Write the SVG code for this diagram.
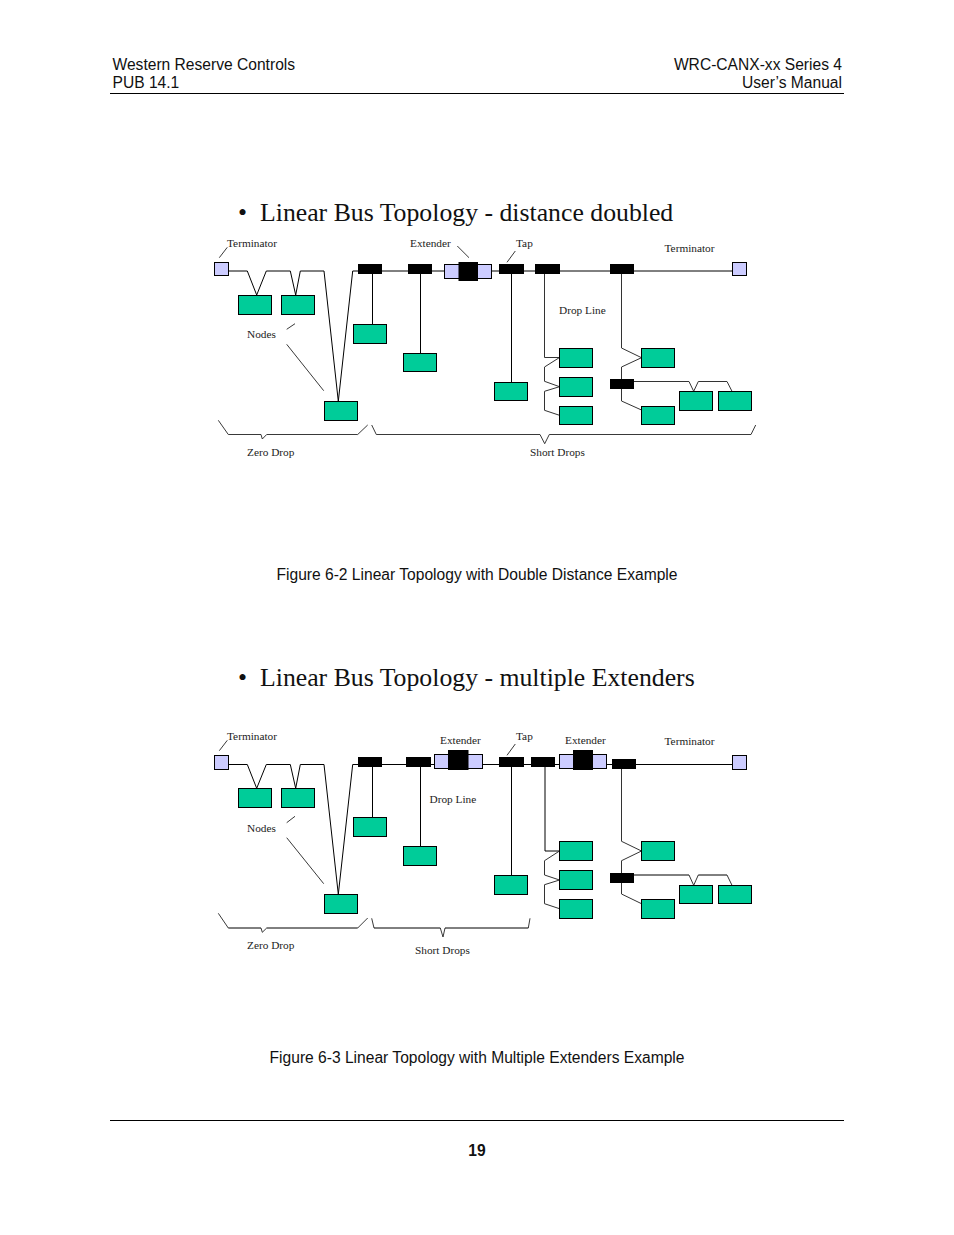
<svg xmlns="http://www.w3.org/2000/svg" width="954" height="1235" viewBox="0 0 954 1235">
<style>
.page{font-family:"Liberation Sans",Arial,sans-serif;font-size:15.6px;fill:#111}
.h{font-family:"Liberation Serif","Times New Roman",serif;font-size:25.75px;fill:#111}
.l{font-family:"Liberation Serif","Times New Roman",serif;font-size:11.3px;fill:#222}
.n{fill:#00cc99;stroke:#000;stroke-width:1}
.t{fill:#000}
.e{fill:#ccccff;stroke:#000;stroke-width:1}
.c{fill:none;stroke:#000;stroke-width:1}
.d{fill:none;stroke:#333;stroke-width:1}
.a{fill:none;stroke:#222;stroke-width:.9}
</style>
<rect width="954" height="1235" fill="#fff"/>
<g id="page">
<text class="page" x="112.500" y="70">Western Reserve Controls</text>
<text class="page" x="112.500" y="88">PUB 14.1</text>
<text class="page" x="842" y="70" text-anchor="end">WRC-CANX-xx Series 4</text>
<text class="page" x="842" y="88" text-anchor="end">User’s Manual</text>
<path d="M110 93.500H844M110 1120.500H844" class="c"/>
<text class="page" x="477" y="1156" text-anchor="middle" style="font-weight:bold">19</text>
<text class="h" x="238" y="221">•</text>
<text class="h" x="260" y="221">Linear Bus Topology - distance doubled</text>
<text class="page" x="477" y="580" text-anchor="middle">Figure 6-2 Linear Topology with Double Distance Example</text>
<text class="h" x="238" y="686">•</text>
<text class="h" x="260" y="686">Linear Bus Topology - multiple Extenders</text>
<text class="page" x="477" y="1063" text-anchor="middle">Figure 6-3 Linear Topology with Multiple Extenders Example</text>
</g>
<g id="connectors">
<path class="c" d="M228.700 271H247.300L256.700 295L266.300 271H290.300L295.700 295L300.300 271H324L338.300 401.300L352.700 271H358M382 271H408M432 271H444.500M491.500 271H499M524 271H535M560 271H610M634 271H732.500"/>
<path class="c" d="M372.500 274V324.500M420.500 274V353.500M511.500 274V382.500"/>
<path class="d" d="M544.500 274V357.500H559.500L544.500 367V381.300L559.500 386.700L544.500 391.300V410.300L559.500 415.300"/>
<path class="d" d="M621.500 274V348L641.500 357.700L621.500 367V379M621.500 389V401L641.500 410"/>
<path class="d" d="M634 381.500H689L693.700 391.300L698.300 381.500H727L732 391.300"/>
<path class="a" d="M219.300 257.700L227.300 247.300M286.700 329.300L295 323.700M286.700 344.300L323.700 390.700M457.300 246L469 257.700M507 262.300L515.300 251"/>
<path class="a" d="M218.300 420.300L228.300 434.500H261L262.300 439L266.700 434.500H357.700L367.700 425M371.700 425L376.300 434.500H540L544.700 443.700L549.300 434.500H751L755.700 425"/>
<path class="c" d="M228.700 764.500H247.300L256.700 788.300L266.300 764.500H290.300L295.700 788.300L300.300 764.500H324L338.300 894.300L352.700 764.500H358M382 764.500H406M431 764.500H434.500M482.500 764.500H499M524 764.500H531M555 764.500H559.500M606.500 764.500H612M636 764.500H732.500"/>
<path class="c" d="M372.500 767V817.500M420.500 767V846.500M511.500 767V875.500"/>
<path class="c" d="M545 767V851H559.500"/>
<path class="d" d="M559.500 851L544.500 860.700V875L559.500 880L544.500 884.700V903.700L559.500 908.700"/>
<path class="d" d="M621.500 769V841.300L641.500 851L621.500 860.700V873M621.500 883V894L641.500 903.700"/>
<path class="c" d="M634 875H689"/>
<path class="d" d="M689 875L693.700 885.300L698.300 875"/>
<path class="c" d="M698.300 875H727"/>
<path class="d" d="M727 875L732 885.300"/>
<path class="a" d="M219.300 750.700L227.300 740.300M286.700 822.700L295 816.300M286.700 837.700L323.700 883.700M507 755.300L515.300 744"/>
<path class="a" d="M218.300 913.300L228.300 928M261 928L262.300 932.300L266.700 928M357.700 928L367.700 918M371.700 918.300L374 928M440.300 928L443 937L445 928M528.300 928L530 918.300"/>
<path class="c" d="M228.300 928H261M266.700 928H357.700M374 928H440.300M445 928H528.300"/>
</g>
<g id="fig2-term-l"><rect class="e" x="214.500" y="262.500" width="14" height="13"/><text class="l" x="227" y="247">Terminator</text></g>
<g id="fig2-term-r"><rect class="e" x="732.500" y="262.500" width="14" height="13"/><text class="l" x="664.500" y="252">Terminator</text></g>
<g id="fig2-node1"><rect class="n" x="238.500" y="295.500" width="33" height="19"/></g>
<g id="fig2-node2"><rect class="n" x="281.500" y="295.500" width="33" height="19"/></g>
<g id="fig2-node3"><rect class="n" x="353.500" y="324.500" width="33" height="19"/></g>
<g id="fig2-node4"><rect class="n" x="403.500" y="353.500" width="33" height="18"/></g>
<g id="fig2-node5"><rect class="n" x="324.500" y="401.500" width="33" height="19"/></g>
<g id="fig2-node6"><rect class="n" x="494.500" y="382.500" width="33" height="18"/></g>
<g id="fig2-node7"><rect class="n" x="559.500" y="348.500" width="33" height="19"/></g>
<g id="fig2-node8"><rect class="n" x="559.500" y="377.500" width="33" height="19"/></g>
<g id="fig2-node9"><rect class="n" x="559.500" y="406.500" width="33" height="18"/></g>
<g id="fig2-node10"><rect class="n" x="641.500" y="348.500" width="33" height="19"/></g>
<g id="fig2-node11"><rect class="n" x="641.500" y="406.500" width="33" height="18"/></g>
<g id="fig2-node12"><rect class="n" x="679.500" y="391.500" width="33" height="19"/></g>
<g id="fig2-node13"><rect class="n" x="718.500" y="391.500" width="33" height="19"/></g>
<g id="fig2-tap1"><rect class="t" x="358" y="264" width="24" height="10"/></g>
<g id="fig2-tap2"><rect class="t" x="408" y="264" width="24" height="10"/></g>
<g id="fig2-tap3"><rect class="t" x="499" y="264" width="25" height="10"/></g>
<g id="fig2-tap4"><rect class="t" x="535" y="264" width="25" height="10"/></g>
<g id="fig2-tap5"><rect class="t" x="610" y="264" width="24" height="10"/></g>
<g id="fig2-tap6"><rect class="t" x="610" y="379" width="24" height="10"/></g>
<g id="fig2-extender"><rect class="e" x="444.500" y="264.500" width="47" height="14"/><rect class="t" x="458.500" y="262" width="19.500" height="19"/></g>
<g id="fig2-labels">
<text class="l" x="410" y="247">Extender</text>
<text class="l" x="516" y="247">Tap</text>
<text class="l" x="559" y="314">Drop Line</text>
<text class="l" x="247" y="338">Nodes</text>
<text class="l" x="247" y="456">Zero Drop</text>
<text class="l" x="530" y="456">Short Drops</text>
</g>
<g id="fig3-term-l"><rect class="e" x="214.500" y="755.500" width="14" height="14"/><text class="l" x="227" y="740">Terminator</text></g>
<g id="fig3-term-r"><rect class="e" x="732.500" y="755.500" width="14" height="14"/><text class="l" x="664.500" y="745">Terminator</text></g>
<g id="fig3-node1"><rect class="n" x="238.500" y="788.500" width="33" height="19"/></g>
<g id="fig3-node2"><rect class="n" x="281.500" y="788.500" width="33" height="19"/></g>
<g id="fig3-node3"><rect class="n" x="353.500" y="817.500" width="33" height="19"/></g>
<g id="fig3-node4"><rect class="n" x="403.500" y="846.500" width="33" height="19"/></g>
<g id="fig3-node5"><rect class="n" x="324.500" y="894.500" width="33" height="19"/></g>
<g id="fig3-node6"><rect class="n" x="494.500" y="875.500" width="33" height="19"/></g>
<g id="fig3-node7"><rect class="n" x="559.500" y="841.500" width="33" height="19"/></g>
<g id="fig3-node8"><rect class="n" x="559.500" y="870.500" width="33" height="19"/></g>
<g id="fig3-node9"><rect class="n" x="559.500" y="899.500" width="33" height="19"/></g>
<g id="fig3-node10"><rect class="n" x="641.500" y="841.500" width="33" height="19"/></g>
<g id="fig3-node11"><rect class="n" x="641.500" y="899.500" width="33" height="19"/></g>
<g id="fig3-node12"><rect class="n" x="679.500" y="885.500" width="33" height="18"/></g>
<g id="fig3-node13"><rect class="n" x="718.500" y="885.500" width="33" height="18"/></g>
<g id="fig3-tap1"><rect class="t" x="358" y="757" width="24" height="10"/></g>
<g id="fig3-tap2"><rect class="t" x="406" y="757" width="25" height="10"/></g>
<g id="fig3-tap3"><rect class="t" x="499" y="757" width="25" height="10"/></g>
<g id="fig3-tap4"><rect class="t" x="531" y="757" width="24" height="10"/></g>
<g id="fig3-tap5"><rect class="t" x="612" y="759" width="24" height="10"/></g>
<g id="fig3-tap6"><rect class="t" x="610" y="873" width="24" height="10"/></g>
<g id="fig3-extender1"><rect class="e" x="434.500" y="754.500" width="48" height="14"/><rect class="t" x="448" y="750" width="20.500" height="20"/></g>
<g id="fig3-extender2"><rect class="e" x="559.500" y="754.500" width="47" height="14"/><rect class="t" x="573" y="750" width="20" height="20"/></g>
<g id="fig3-labels">
<text class="l" x="440" y="744">Extender</text>
<text class="l" x="516" y="740">Tap</text>
<text class="l" x="565" y="744">Extender</text>
<text class="l" x="429.500" y="803">Drop Line</text>
<text class="l" x="247" y="832">Nodes</text>
<text class="l" x="247" y="949">Zero Drop</text>
<text class="l" x="415" y="954">Short Drops</text>
</g>
</svg>
